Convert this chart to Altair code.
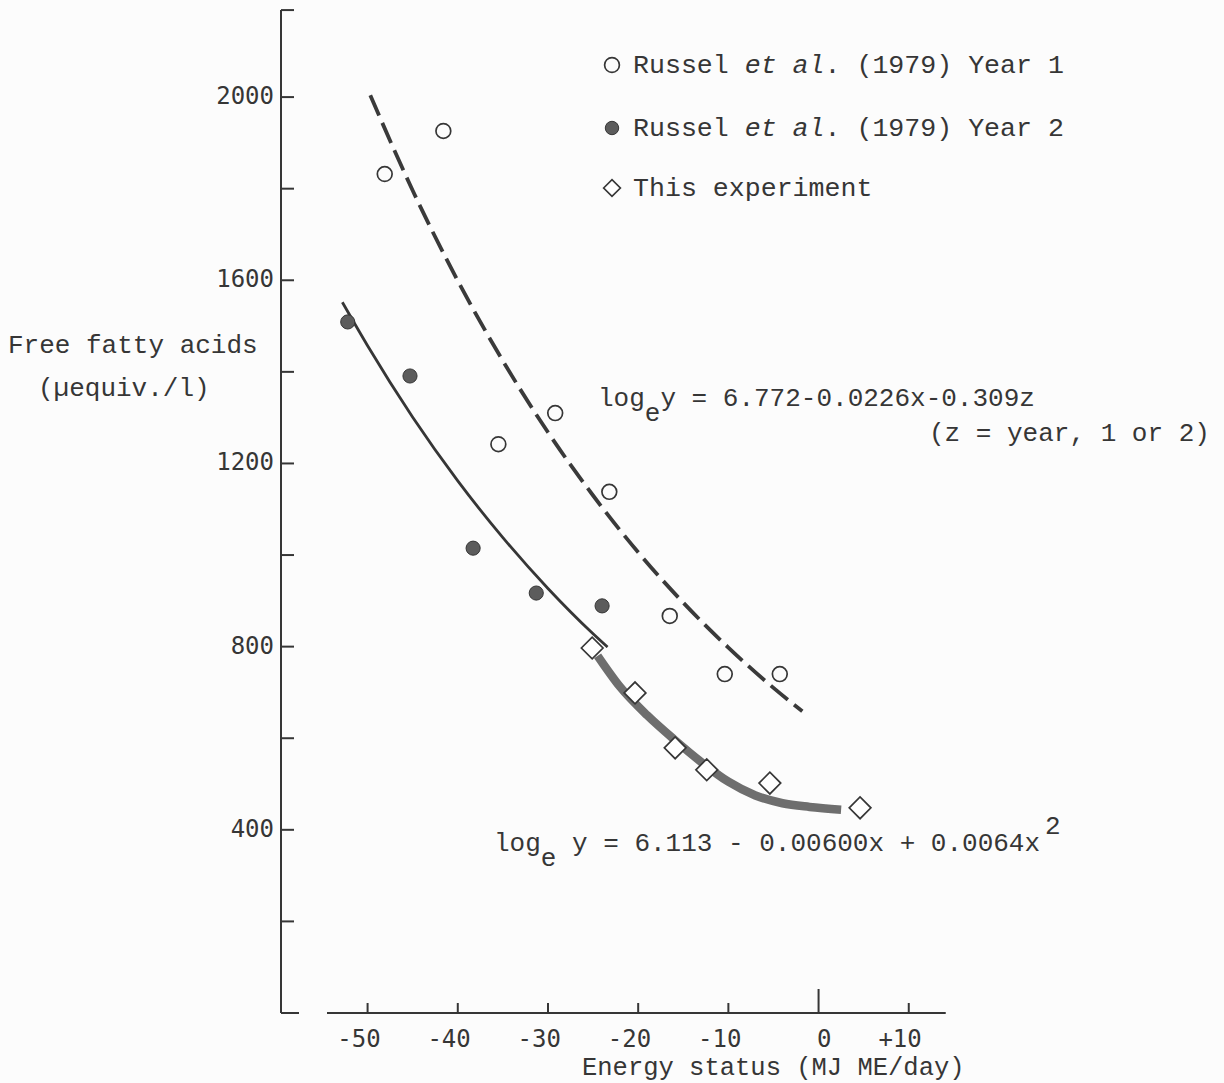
import altair as alt
import pandas as pd

# ---- data (energy status in MJ ME/day, free fatty acids in uequiv./l) ----
# Russel et al. (1979), year 1
year1_energy = [-48.1, -41.6, -35.5, -29.2, -23.2, -16.5, -10.4, -4.3]
year1_ffa = [1832, 1926, 1242, 1310, 1138, 867, 740, 740]
# Russel et al. (1979), year 2
year2_energy = [-52.2, -45.3, -38.3, -31.3, -24.0]
year2_ffa = [1509, 1391, 1015, 917, 889]
# this experiment
expt_energy = [-25.1, -20.35, -15.9, -12.4, -5.4, 4.6]
expt_ffa = [797, 699, 579, 531, 502, 448]

# fitted curves as drawn
fit1_energy = [-49.7, -45, -40, -35, -30, -25, -20, -15, -10, -5, -1.8]
fit1_ffa = [2004, 1796, 1599, 1424, 1268, 1130, 1006, 896, 798, 710, 659]
fit2_energy = [-52.8, -50, -45, -40, -35, -30, -25, -23.4]
fit2_ffa = [1552, 1457, 1301, 1162, 1038, 927, 828, 799]
fit3_energy = [-24.5, -22, -19, -16, -13, -10, -7, -4, -1, 2.5]
fit3_ffa = [780, 712, 650, 597, 548, 505, 475, 458, 450, 444]

# axis ticks
x_tick_values = [-50, -40, -30, -20, -10, 0, 10]
x_tick_labels = ["-50", "-40", "-30", "-20", "-10", "0", "+10"]
y_label_values = [400, 800, 1200, 1600, 2000]
y_tick_values = [200, 400, 600, 800, 1000, 1200, 1400, 1600, 1800, 2000]

# ---- layout / style ----
INK = "#363636"
MONO = "Liberation Mono"
NUM = "DejaVu Sans Mono"
LEFT = 281          # left padding: the y axis sits on the view's left edge
W, H = 943, 1013
X_MIN, X_MAX = -59.6, 44.95
Y_MAX = 2212
AXIS_TOP = 2190
XAXIS_START, XAXIS_END = -54.5, 14.1

xs = alt.Scale(domain=[X_MIN, X_MAX], nice=False, zero=False)
ys = alt.Scale(domain=[0, Y_MAX], nice=False, zero=False)


def X(field):
    return alt.X(field, type="quantitative", scale=xs, axis=None)


def Y(field):
    return alt.Y(field, type="quantitative", scale=ys, axis=None)


df_y1 = pd.DataFrame({"energy": year1_energy, "ffa": year1_ffa})
df_y2 = pd.DataFrame({"energy": year2_energy, "ffa": year2_ffa})
df_ex = pd.DataFrame({"energy": expt_energy, "ffa": expt_ffa})
df_f1 = pd.DataFrame({"energy": fit1_energy, "ffa": fit1_ffa})
df_f2 = pd.DataFrame({"energy": fit2_energy, "ffa": fit2_ffa})
df_f3 = pd.DataFrame({"energy": fit3_energy, "ffa": fit3_ffa})

# shaded fit for this experiment
band = alt.Chart(df_f3).mark_line(
    color="#6e6e6e", strokeWidth=8.5, interpolate="monotone", strokeCap="butt"
).encode(x=X("energy"), y=Y("ffa"))

# year 2 fit (solid) and year 1 fit (dashed)
solid = alt.Chart(df_f2).mark_line(
    color=INK, strokeWidth=2.8, interpolate="monotone"
).encode(x=X("energy"), y=Y("ffa"))
dashed = alt.Chart(df_f1).mark_line(
    color="#3a3a3a", strokeWidth=3.8, strokeDash=[22, 8], interpolate="monotone"
).encode(x=X("energy"), y=Y("ffa"))

pts_y2 = alt.Chart(df_y2).mark_point(
    shape="circle", filled=True, fill="#5c5c5c", stroke=INK, strokeWidth=1,
    size=200, opacity=1
).encode(x=X("energy"), y=Y("ffa"))
pts_y1 = alt.Chart(df_y1).mark_point(
    shape="circle", filled=False, color=INK, strokeWidth=1.7, size=219, opacity=1
).encode(x=X("energy"), y=Y("ffa"))
pts_ex = alt.Chart(df_ex).mark_point(
    shape="diamond", filled=True, fill="white", stroke=INK, strokeWidth=1.7,
    size=470, opacity=1
).encode(x=X("energy"), y=Y("ffa"))

# hand-drawn style axes: y axis line, x axis line (with a gap at the corner)
axes_df = pd.DataFrame({
    "x": [X_MIN, XAXIS_START], "x2": [X_MIN, XAXIS_END],
    "y": [0, 0], "y2": [AXIS_TOP, 0],
})
axis_lines = alt.Chart(axes_df).mark_rule(color=INK, strokeWidth=2).encode(
    x=X("x"), x2="x2:Q", y=Y("y"), y2="y2:Q"
)
ytick_df = pd.DataFrame({"x": X_MIN, "y": y_tick_values + [AXIS_TOP]})
yticks = alt.Chart(ytick_df).mark_tick(
    orient="horizontal", size=13, thickness=2, xOffset=6.5, color=INK, opacity=1
).encode(x=X("x"), y=Y("y"))
corner = alt.Chart(pd.DataFrame({"x": [X_MIN], "y": [0]})).mark_tick(
    orient="horizontal", size=18, thickness=2, xOffset=9, color=INK, opacity=1
).encode(x=X("x"), y=Y("y"))
xtick_df = pd.DataFrame({"x": [v for v in x_tick_values if v != 0], "y": 0})
xticks = alt.Chart(xtick_df).mark_tick(
    orient="vertical", size=10, thickness=2, yOffset=-5, color=INK, opacity=1
).encode(x=X("x"), y=Y("y"))
zero_tick = alt.Chart(pd.DataFrame({"x": [0], "y": [0]})).mark_tick(
    orient="vertical", size=24, thickness=2, yOffset=-12, color=INK, opacity=1
).encode(x=X("x"), y=Y("y"))

# tick labels, placed through the same scales
xlab = alt.Chart(pd.DataFrame({"v": x_tick_values, "t": x_tick_labels})).mark_text(
    align="right", baseline="middle", dx=13, font=NUM, fontSize=24, color=INK
).encode(x=X("v"), y=alt.value(1040), text="t:N")
ylab = alt.Chart(pd.DataFrame({"v": y_label_values})).mark_text(
    align="right", baseline="middle", font=NUM, fontSize=24, color=INK
).encode(x=alt.value(-7), y=Y("v"), text="v:Q")


def label(text, px, py, size=26, style="normal", align="left", font=MONO):
    return alt.Chart(pd.DataFrame({"t": [text]})).mark_text(
        align=align, baseline="middle", font=font, fontSize=size,
        fontStyle=style, color=INK
    ).encode(x=alt.value(px - LEFT), y=alt.value(py), text="t:N")


def marker(px, py, **kw):
    return alt.Chart(pd.DataFrame({"k": [0]})).mark_point(opacity=1, **kw).encode(
        x=alt.value(px - LEFT), y=alt.value(py)
    )


CH = 15.96  # advance of one legend character
LEG_X, TXT_X = 612, 633
legend = [
    marker(LEG_X, 65, shape="circle", filled=False, color=INK, strokeWidth=1.7, size=219),
    label("Russel ", TXT_X, 65, size=26.6),
    label("et al", TXT_X + 7 * CH, 65, size=26.6, style="italic"),
    label(". (1979) Year 1", TXT_X + 12 * CH, 65, size=26.6),
    marker(LEG_X, 128, shape="circle", filled=True, fill="#5c5c5c", stroke=INK,
           strokeWidth=1, size=180),
    label("Russel ", TXT_X, 128, size=26.6),
    label("et al", TXT_X + 7 * CH, 128, size=26.6, style="italic"),
    label(". (1979) Year 2", TXT_X + 12 * CH, 128, size=26.6),
    marker(LEG_X, 188, shape="diamond", filled=True, fill="white", stroke=INK,
           strokeWidth=1.7, size=280),
    label("This experiment", TXT_X, 188, size=26.6),
]

EQ = 15.6  # advance of one equation character
equations = [
    label("log", 598, 398),
    label("e", 598 + 3 * EQ, 413),
    label("y = 6.772-0.0226x-0.309z", 598 + 4 * EQ, 398),
    label("(z = year, 1 or 2)", 929, 433),
    label("log", 494, 843),
    label("e", 494 + 3 * EQ, 858),
    label("y = 6.113 - 0.00600x + 0.0064x", 494 + 5 * EQ, 843),
    label("2", 1045, 826),
]

titles = [
    label("Free fatty acids", 8, 345),
    label("(\u00b5equiv./l)", 38, 388),
    label("Energy status (MJ ME/day)", 582, 1067, size=25.5),
]

chart = alt.layer(
    band, solid, dashed, pts_y2, pts_y1, pts_ex,
    axis_lines, yticks, corner, xticks, zero_tick, xlab, ylab,
    *legend, *equations, *titles,
).properties(
    width=W, height=H,
    padding={"left": LEFT, "top": 0, "right": 0, "bottom": 70},
    autosize=alt.AutoSizeParams(type="none"),
    background="#fcfcfc",
).configure_view(stroke=None)

chart.save("out.html", embed_options={"renderer": "svg", "actions": False})
